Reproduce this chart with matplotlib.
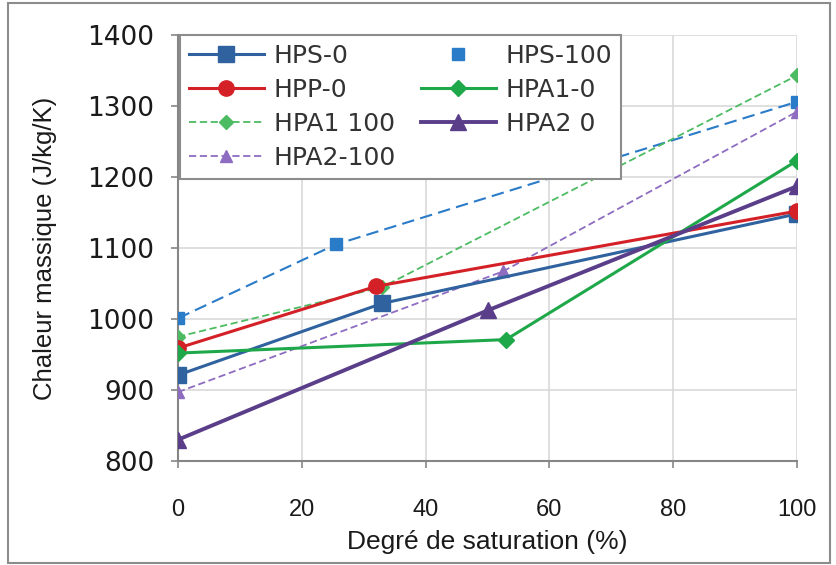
import matplotlib
matplotlib.use("Agg")
import matplotlib.pyplot as plt
from matplotlib.lines import Line2D
from matplotlib.patches import Rectangle

# =============================================================================
# DATA
# =============================================================================
HPS_0_X     = [0, 33, 100]
HPS_0_Y     = [921, 1022, 1148]
HPS_100_X   = [0, 25.5, 100]
HPS_100_Y   = [1001, 1105, 1306]
HPP_0_X     = [0, 32, 100]
HPP_0_Y     = [959, 1046, 1152]
HPA1_0_X    = [0, 53, 100]
HPA1_0_Y    = [952, 971, 1223]
HPA1_100_X  = [0, 33, 100]
HPA1_100_Y  = [975, 1045, 1343]
HPA2_0_X    = [0, 50, 100]
HPA2_0_Y    = [830, 1012, 1187]
HPA2_100_X  = [0, 52.5, 100]
HPA2_100_Y  = [897, 1067, 1292]

X_TICKS = [0, 20, 40, 60, 80, 100]
Y_TICKS = [800, 900, 1000, 1100, 1200, 1300, 1400]

plt.rcParams['font.family'] = ['Liberation Sans', 'DejaVu Sans']

fig = plt.figure(figsize=(8.36, 5.65), dpi=100)
ax = fig.add_axes([178 / 836, 1 - 461 / 565, 619 / 836, 426 / 565])

# outer chart border
fig.patches.append(Rectangle((8 / 836, 2 / 565), 822 / 836, 560 / 565,
                             transform=fig.transFigure, fill=False,
                             edgecolor="#8c8c8c", linewidth=1.5))

# --- series ---
ax.plot(HPS_0_X, HPS_0_Y, color="#2f629e", lw=2.2, marker="s", ms=11, label="HPS-0", zorder=5)
ax.plot(HPS_100_X, HPS_100_Y, color="#2a7bc8", lw=1.5, ls=(0, (6, 3)), marker="s", ms=9, zorder=4)
ax.plot(HPP_0_X, HPP_0_Y, color="#d42027", lw=2.2, marker="o", ms=11, label="HPP-0", zorder=5)
ax.plot(HPA1_0_X, HPA1_0_Y, color="#1fa84a", lw=2.2, marker="D", ms=8, label="HPA1-0", zorder=5)
ax.plot(HPA1_100_X, HPA1_100_Y, color="#4dbb62", lw=1.3, ls=(0, (4, 2)), marker="D", ms=7, label="HPA1 100", zorder=4)
ax.plot(HPA2_0_X, HPA2_0_Y, color="#5a3e8a", lw=2.8, marker="^", ms=11, label="HPA2 0", zorder=5)
ax.plot(HPA2_100_X, HPA2_100_Y, color="#8e6cc0", lw=1.3, ls=(0, (4, 2)), marker="^", ms=9, label="HPA2-100", zorder=4)

# --- axes ---
ax.set_xlim(0, 100)
ax.set_ylim(800, 1400)
ax.set_xticks(X_TICKS)
ax.set_yticks(Y_TICKS)
ax.grid(True, color="#d9d9d9", linewidth=1.2)
ax.set_axisbelow(True)
for spine in ["top", "right"]:
    ax.spines[spine].set_visible(False)
for spine in ["left", "bottom"]:
    ax.spines[spine].set_color("#868686")
    ax.spines[spine].set_linewidth(1.5)
ax.tick_params(axis="both", colors="#868686", labelcolor="#1a1a1a", length=5, width=1.2)
ax.tick_params(axis="y", labelsize=19, pad=12)
ax.tick_params(axis="x", labelsize=17, pad=22)
for t in ax.get_yticklabels():
    t.set_family("DejaVu Sans")
ax.set_xlabel("Degré de saturation (%)", fontsize=19, color="#1a1a1a", labelpad=7)
ax.set_ylabel("Chaleur massique (J/kg/K)", fontsize=18.5, color="#1a1a1a", labelpad=22)

# --- legend (row-major order as in the reference) ---
h = {l.get_label(): l for l in ax.get_lines()}
hps100 = Line2D([], [], color="#2a7bc8", ls="none", marker="s", ms=9)
handles = [h["HPS-0"], h["HPP-0"], h["HPA1 100"], h["HPA2-100"],
           hps100, h["HPA1-0"], h["HPA2 0"]]
labels = ["HPS-0", "HPP-0", "HPA1 100", "HPA2-100",
          "HPS-100", "HPA1-0", "HPA2 0"]
leg = ax.legend(handles, labels, ncol=2, loc="upper left", bbox_to_anchor=(0.003, 1.0),
                borderaxespad=0, handlelength=3.0, handletextpad=0.4,
                columnspacing=1.0, labelspacing=0.4, borderpad=0.35,
                fancybox=False, framealpha=1, edgecolor="#8c8c8c",
                prop={"family": ["DejaVu Sans"], "size": 18})
leg.get_frame().set_linewidth(1.5)
for t in leg.get_texts():
    t.set_color("#333333")

fig.savefig("out.png", dpi=100)
